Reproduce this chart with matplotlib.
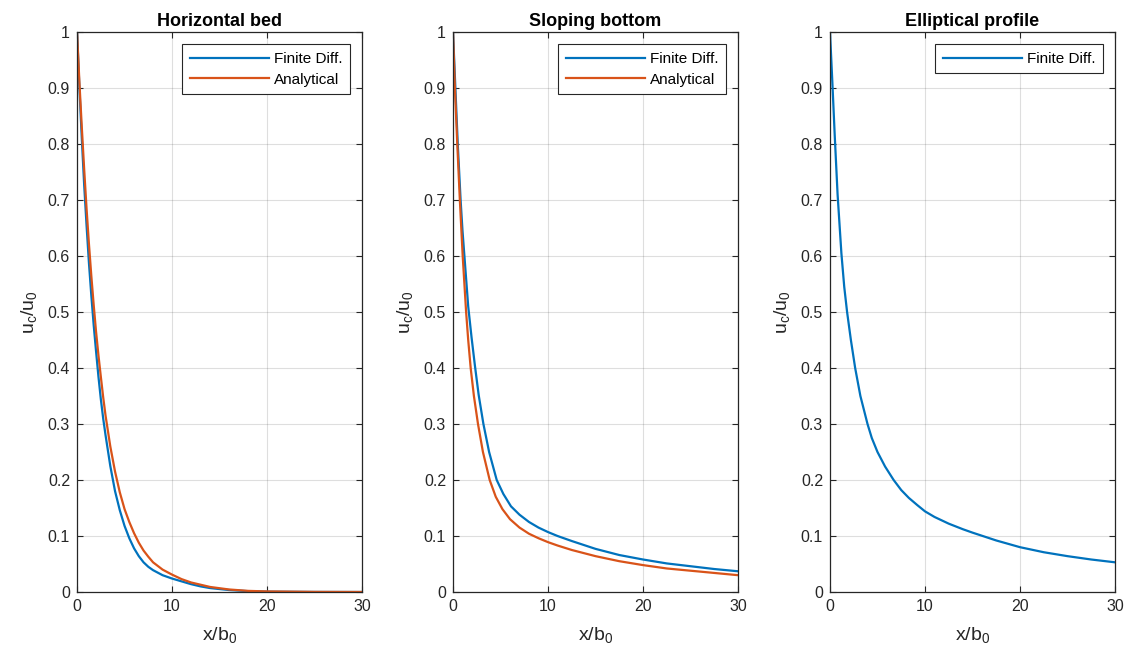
import matplotlib
matplotlib.use('Agg')
import matplotlib.pyplot as plt

plt.rcParams['font.family'] = ['Liberation Sans', 'DejaVu Sans']

# values
titles = ['Horizontal bed', 'Sloping bottom', 'Elliptical profile']

# horizontal bed
x_hb = [0, 0.25, 0.5, 0.75, 1, 1.25, 1.5, 1.75, 2, 2.25, 2.5, 2.75, 3, 3.5, 4, 4.5, 5,
        5.5, 6, 6.5, 7, 7.5, 8, 9, 10, 11, 12, 13, 14, 16, 18, 20, 25, 30]
fd_hb = [1.0, 0.90, 0.81, 0.727, 0.655, 0.588, 0.53, 0.477, 0.43, 0.385, 0.345, 0.31,
         0.28, 0.225, 0.18, 0.146, 0.118, 0.096, 0.078, 0.064, 0.053, 0.045, 0.039,
         0.030, 0.024, 0.019, 0.014, 0.010, 0.007, 0.0035, 0.0015, 0.0006, 0.0001, 0.0]
an_hb = [1.0, 0.91, 0.83, 0.755, 0.685, 0.622, 0.565, 0.513, 0.465, 0.423, 0.385, 0.348,
         0.315, 0.26, 0.215, 0.178, 0.148, 0.125, 0.105, 0.088, 0.074, 0.063, 0.053,
         0.040, 0.031, 0.023, 0.017, 0.013, 0.009, 0.0045, 0.002, 0.001, 0.0002, 0.0]

# sloping bottom
x_sb_fd = [0, 0.25, 0.5, 0.8, 1.0, 1.2, 1.4, 1.6, 1.95, 2.3, 2.7, 3.2, 3.8, 4.6, 5.3,
           6.1, 7, 8, 9, 10, 11, 12.5, 15, 17.5, 20, 22.5, 25, 27.5, 30]
fd_sb = [1.0, 0.9, 0.8, 0.7, 0.645, 0.6, 0.555, 0.51, 0.455, 0.405, 0.352, 0.3, 0.25,
         0.2, 0.175, 0.153, 0.138, 0.125, 0.115, 0.107, 0.1, 0.091, 0.077, 0.066, 0.058,
         0.051, 0.046, 0.041, 0.037]
x_sb_an = [0, 0.2, 0.45, 0.72, 1.02, 1.38, 1.6, 1.86, 2.2, 2.63, 3.15, 3.86, 4.5, 5.2,
           6, 7, 8, 9, 10, 11, 12.5, 15, 17.5, 20, 22.5, 25, 27.5, 30]
an_sb = [1.0, 0.9, 0.8, 0.7, 0.6, 0.5, 0.45, 0.4, 0.35, 0.3, 0.25, 0.2, 0.17, 0.148,
         0.13, 0.115, 0.104, 0.096, 0.089, 0.083, 0.075, 0.064, 0.055, 0.048, 0.042,
         0.038, 0.034, 0.030]

# elliptical profile
x_el = [0, 0.25, 0.5, 0.8, 1.2, 1.5, 1.8, 2.2, 2.65, 3.2, 3.95, 4.4, 5.0, 5.8, 6.7, 7.5,
        8.3, 9.2, 10, 11, 12.5, 14, 15, 17.5, 20, 22.5, 25, 27.5, 30]
fd_el = [1.0, 0.91, 0.815, 0.71, 0.605, 0.545, 0.5, 0.45, 0.4, 0.35, 0.3, 0.275, 0.25,
         0.224, 0.2, 0.182, 0.168, 0.155, 0.144, 0.134, 0.122, 0.112, 0.106, 0.092,
         0.080, 0.071, 0.064, 0.058, 0.053]

xticks = [0, 10, 20, 30]
yticks = [0, 0.1, 0.2, 0.3, 0.4, 0.5, 0.6, 0.7, 0.8, 0.9, 1]
ytick_labels = ['0', '0.1', '0.2', '0.3', '0.4', '0.5', '0.6', '0.7', '0.8', '0.9', '1']

blue = '#0072BD'
orange = '#D95319'
dark = '#262626'

fig = plt.figure(figsize=(11.28, 6.61), dpi=100)
lefts = [0.0683, 0.4016, 0.7358]
axes = [fig.add_axes([l, 0.1044, 0.2527, 0.8472]) for l in lefts]

axes[0].plot(x_hb, fd_hb, color=blue, lw=1.6, label='Finite Diff.')
axes[0].plot(x_hb, an_hb, color=orange, lw=1.6, label='Analytical')
axes[1].plot(x_sb_fd, fd_sb, color=blue, lw=1.6, label='Finite Diff.')
axes[1].plot(x_sb_an, an_sb, color=orange, lw=1.6, label='Analytical')
axes[2].plot(x_el, fd_el, color=blue, lw=1.6, label='Finite Diff.')

for ax, t in zip(axes, titles):
    ax.set_xlim(0, 30)
    ax.set_ylim(0, 1)
    ax.set_xticks(xticks)
    ax.set_yticks(yticks)
    ax.set_yticklabels(ytick_labels)
    ax.grid(True, color='#262626', alpha=0.15, lw=0.8)
    ax.tick_params(direction='in', top=True, right=True, labelsize=11.5,
                   colors=dark, length=4, width=0.8, pad=5)
    for s in ax.spines.values():
        s.set_color(dark)
        s.set_linewidth(0.9)
    ax.set_title(t, fontsize=13, fontweight='bold', color='black', pad=4)
    ax.set_xlabel(r'$\mathregular{x/b_0}$', fontsize=14, color=dark, labelpad=8)
    ax.set_ylabel(r'$\mathregular{u_c/u_0}$', fontsize=14, color=dark, labelpad=6)
    leg = ax.legend(loc='upper right', fontsize=11, handlelength=5.2, fancybox=False,
                    framealpha=1, edgecolor=dark, borderpad=0.5, labelspacing=0.45,
                    handletextpad=0.3, borderaxespad=0.8)
    leg.get_frame().set_linewidth(0.8)

fig.savefig('out.png', dpi=100)
